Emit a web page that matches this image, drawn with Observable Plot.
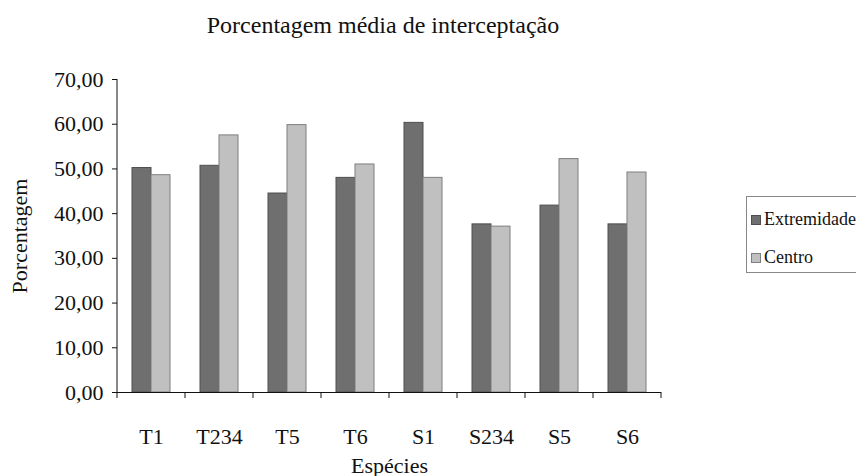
<!DOCTYPE html>
<html><head><meta charset="utf-8">
<script src="https://cdn.jsdelivr.net/npm/d3@7"></script>
<script src="https://cdn.jsdelivr.net/npm/@observablehq/plot@0.6"></script>
<style>
body{margin:0;background:#fff;overflow:hidden;}
#wrap{position:relative;width:856px;height:476px;overflow:hidden;font-family:"Liberation Serif",serif;color:#111;}
#wrap svg, #wrap svg text{font-family:"Liberation Serif",serif !important;}
#title{position:absolute;top:13px;left:183px;width:400px;text-align:center;font-size:24px;line-height:24px;white-space:nowrap;}
#legend{position:absolute;left:746px;top:196px;width:150px;height:77px;border:1px solid #888;box-sizing:border-box;}
.item{position:absolute;left:4px;font-size:18px;line-height:18px;white-space:nowrap;}
.sw{display:inline-block;width:10px;height:10px;box-sizing:border-box;margin-right:3px;vertical-align:0px;}
</style></head><body><div id="wrap"><div id="title">Porcentagem média de interceptação</div></div>
<script>
const species = ["T1","T234","T5","T6","S1","S234","S5","S6"];
const seriesNames = ["Extremidade","Centro"];
const extremidade = [50.2,50.7,44.5,48.0,60.3,37.6,41.8,37.6];
const centro = [48.6,57.5,59.8,51.0,48.0,37.1,52.2,49.2];
const yTicks = [0,10,20,30,40,50,60,70];
const fills = ["#6f6f6f","#c0c0c0"];
const strokes = ["#4e4e4e","#7e7e7e"];

const rows = species.flatMap((s,i)=>[
  {esp:s, serie:seriesNames[0], v:extremidade[i]},
  {esp:s, serie:seriesNames[1], v:centro[i]}
]);
const fmt = d => d.toFixed(2).replace(".", ",");

const svg = Plot.plot({
  width: 856, height: 476,
  marginLeft: 117, marginRight: 195, marginTop: 79, marginBottom: 84,
  style: {fontSize: "22px", color: "#111", background: "transparent"},
  fx: {domain: species, padding: 0, axis: null},
  x: {domain: seriesNames, paddingInner: 0, paddingOuter: 0.77, axis: null},
  y: {domain: [0,70], axis: null},
  marks: [
    Plot.barY(rows.filter(d=>d.serie===seriesNames[0]), {fx:"esp", x:"serie", y:"v", fill: fills[0], stroke: strokes[0], strokeWidth: 1}),
    Plot.barY(rows.filter(d=>d.serie===seriesNames[1]), {fx:"esp", x:"serie", y:"v", fill: fills[1], stroke: strokes[1], strokeWidth: 1}),
    Plot.ruleY([0], {stroke: "#111"}),
    Plot.axisY({ticks: yTicks, tickFormat: fmt, tickSize: 5, tickPadding: 9, fontSize: 22, label: "Porcentagem", labelAnchor: "center", labelArrow: "none", labelOffset: 106}),
    Plot.axisFx({anchor: "bottom", tickSize: 0, tickPadding: 36, fontSize: 22, label: "Espécies", labelAnchor: "center", labelArrow: "none", labelOffset: 80})
  ]
});

// y axis line and category boundary ticks, from the plot's own scales
const fx = svg.scale("fx"), y = svg.scale("y");
const g = d3.select(svg).append("g").attr("stroke", "#111").attr("fill", "none");
const x0 = fx.apply(species[0]);
const y0 = y.apply(0), yTop = y.apply(yTicks[yTicks.length-1]);
g.append("line").attr("x1", x0).attr("x2", x0).attr("y1", yTop).attr("y2", y0);
const bounds = species.map(s => fx.apply(s)).concat([fx.apply(species[species.length-1]) + fx.bandwidth]);
bounds.forEach(b => g.append("line").attr("x1", b).attr("x2", b).attr("y1", y0).attr("y2", y0 + 6));

const wrap = document.getElementById("wrap");
wrap.insertBefore(svg, wrap.firstChild);
svg.style.position = "absolute"; svg.style.left = "0"; svg.style.top = "0";

const legend = document.createElement("div");
legend.id = "legend";
seriesNames.forEach((n,i)=>{
  const it = document.createElement("div");
  it.className = "item";
  it.style.top = (i===0 ? 13 : 51) + "px";
  const sw = document.createElement("span");
  sw.className = "sw"; sw.style.background = fills[i]; sw.style.border = "1px solid " + strokes[i];
  it.appendChild(sw);
  it.appendChild(document.createTextNode(n));
  legend.appendChild(it);
});
wrap.appendChild(legend);
</script></body></html>
